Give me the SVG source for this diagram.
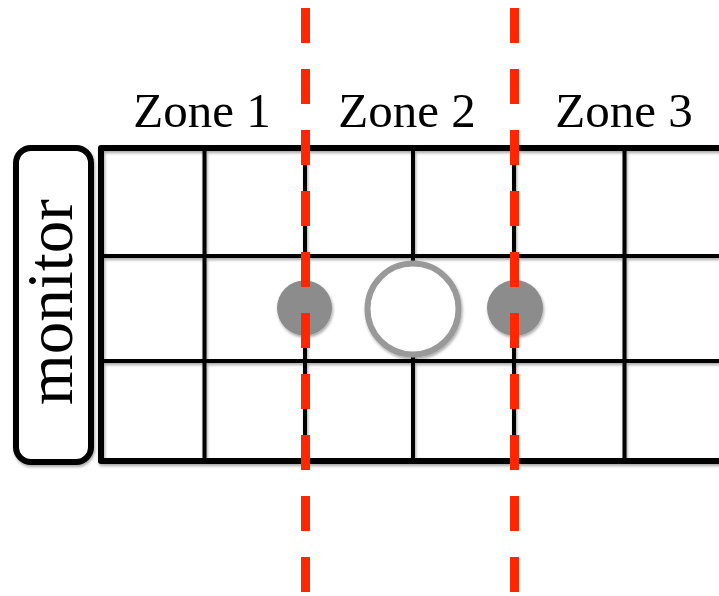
<svg xmlns="http://www.w3.org/2000/svg" width="719" height="596" viewBox="0 0 719 596">
  <defs>
    <filter id="sh" x="-10%" y="-10%" width="120%" height="120%">
      <feDropShadow dx="1" dy="2" stdDeviation="1.5" flood-color="#000" flood-opacity="0.35"/>
    </filter>
  </defs>
  <style>
    .lbl { font-family: "Liberation Serif", "Times New Roman", serif; fill: #000; }
    .zone { font-size: 49px; text-anchor: middle; }
    .outer { stroke: #000; stroke-width: 6; fill: none; }
    .inner { stroke: #000; stroke-width: 4; fill: none; }
    .dash { stroke: #ff2600; stroke-width: 9; fill: none; stroke-dasharray: 35 26; }
    .dot { fill: #8c8c8c; }
  </style>
  <rect width="719" height="596" fill="#fff"/>

  <g id="zone-labels">
    <text class="lbl zone" x="202" y="127">Zone 1</text>
    <text class="lbl zone" x="407" y="127">Zone 2</text>
    <text class="lbl zone" x="624" y="127">Zone 3</text>
  </g>

  <g id="monitor" filter="url(#sh)">
    <rect x="16" y="148" width="75" height="314" rx="15" ry="15" fill="#fff" stroke="#000" stroke-width="6"/>
    <text class="lbl" font-size="65" text-anchor="middle" transform="translate(72,302) rotate(-90)">monitor</text>
  </g>

  <g id="grid" filter="url(#sh)">
    <line class="inner" x1="101" y1="256" x2="719" y2="256"/>
    <line class="inner" x1="101" y1="361" x2="719" y2="361"/>
    <line class="inner" x1="204.5" y1="148" x2="204.5" y2="461"/>
    <line class="inner" x1="305" y1="148" x2="305" y2="461"/>
    <line class="inner" x1="413" y1="148" x2="413" y2="461"/>
    <line class="inner" x1="514" y1="148" x2="514" y2="461"/>
    <line class="inner" x1="624.5" y1="148" x2="624.5" y2="461"/>
    <polyline class="outer" points="722,148 101,148 101,461 722,461" stroke-linejoin="round"/>
  </g>

  <g id="objects" filter="url(#sh)">
    <circle class="dot" cx="304.5" cy="308" r="27.5"/>
    <circle class="dot" cx="515" cy="308" r="28"/>
    <circle cx="413" cy="309" r="45.5" fill="#fff" stroke="#999" stroke-width="6"/>
  </g>

  <g id="connectors">
    <line class="dash" x1="305.5" y1="8" x2="305.5" y2="596"/>
    <line class="dash" x1="514.5" y1="8" x2="514.5" y2="596"/>
  </g>
</svg>
